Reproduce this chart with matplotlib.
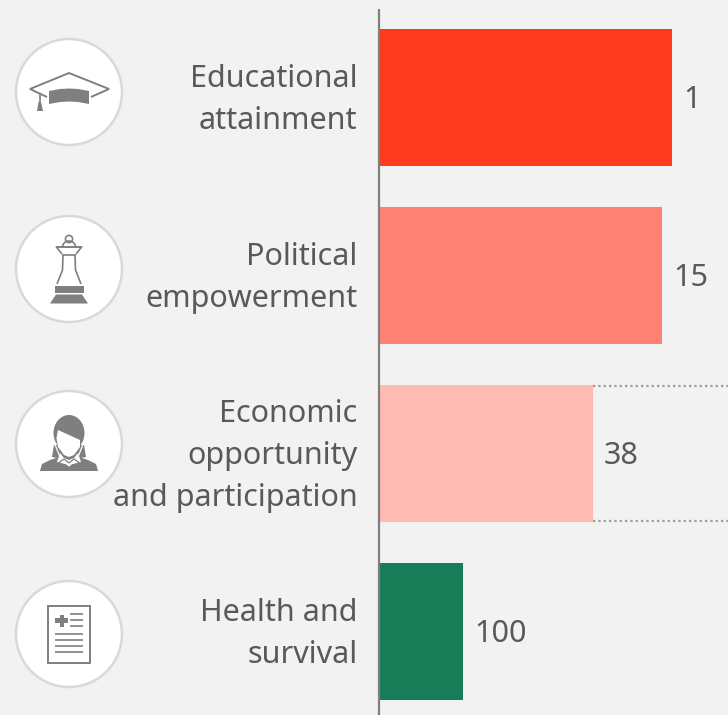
import numpy as np
import matplotlib
matplotlib.use('Agg')
import matplotlib.pyplot as plt
from matplotlib.patches import Circle, Polygon, Rectangle, Ellipse

categories = ['Educational\nattainment', 'Political\nempowerment',
              'Economic\nopportunity\nand participation', 'Health and\nsurvival']
scores = [1.0, 0.966, 0.73, 0.287]
ranks = ['1', '15', '38', '100']
colors = ['#ff3a1d', '#ff8275', '#ffbab3', '#187c58']

BG = '#f2f2f2'
TXT = '#595959'
ICON = '#7f7f7f'
W, H = 728, 715
STEP = 178.0
BAR_H = 137.0
X0 = 379.0
PX_PER_UNIT = 293.0
CENTERS = [97.5, 275.5, 453.5, 631.5]

plt.rcParams['font.family'] = ['Noto Sans', 'DejaVu Sans']

fig = plt.figure(figsize=(W / 100, H / 100), dpi=100, facecolor=BG)

# bars, in score units across and row index down
ax = fig.add_axes([X0 / W, 0, (W - X0) / W, 1])
ax.set_xlim(0, (W - X0) / PX_PER_UNIT)
ax.set_ylim((H - CENTERS[0]) / STEP, -CENTERS[0] / STEP)
ax.axis('off')
ypos = np.arange(len(scores))
ax.barh(ypos, scores, height=BAR_H / STEP, color=colors, linewidth=0)
for y, s, r in zip(ypos, scores, ranks):
    ax.annotate(r, (s, y), xytext=(11, -2), textcoords='offset pixels', ha='left', va='center',
                fontsize=22, color=TXT)

# dotted guides running off the third bar
for edge in [-0.49, 0.49]:
    y = ypos[2] + edge * BAR_H / STEP
    ax.plot([scores[2], ax.get_xlim()[1]], [y, y], color='#9c9c9c', lw=1.6,
            dashes=(1, 1.4), zorder=1)

# overlay in pixel units for labels and icons
ov = fig.add_axes([0, 0, 1, 1])
ov.set_xlim(0, W)
ov.set_ylim(H, 0)
ov.axis('off')
ov.patch.set_alpha(0)

ov.plot([378.5, 378.5], [9, H], color='#7f7f7f', lw=1.6, solid_capstyle='butt')

for cy, lab in zip(CENTERS, categories):
    ov.text(357.5, cy + 2.5, lab, ha='right', va='center', fontsize=22, color=TXT,
            linespacing=1.52, multialignment='right')


def line(xs, ys, lw=1.2, c=ICON):
    ov.plot(xs, ys, color=c, lw=lw, solid_capstyle='butt', solid_joinstyle='miter')


def poly(pts, c=ICON):
    ov.add_patch(Polygon(pts, closed=True, fc=c, ec='none'))


ICON_X = 69
icon_y = [92, 269, 444, 634]
for cy in icon_y:
    ov.add_patch(Circle((ICON_X, cy), 53, fc='white', ec='#d9d9d9', lw=1.8))

# mortarboard
line([47, 30, 69, 109, 91], [97, 89, 73, 89, 97], lw=1.4)
poly([(49, 91), (60, 89), (69, 88.5), (78, 89), (89, 91), (89, 104),
      (78, 102), (69, 101.5), (60, 102), (49, 104)])
line([40, 40], [93, 106], lw=1.2)
poly([(38.5, 102), (41, 102), (43, 111), (37, 111)])

# chess queen
ov.add_patch(Circle((69, 239), 3.6, fc='white', ec=ICON, lw=1.2))
ov.add_patch(Ellipse((69, 247), 13, 12, fc='none', ec=ICON, lw=1.2))
ov.add_patch(Rectangle((55, 247), 28, 8.5, fc='white', ec='none'))
line([56, 82], [246.5, 246.5], lw=1.4)
line([56, 62], [246.5, 254], lw=1.2)
line([82, 76], [246.5, 254], lw=1.2)
line([62, 76], [255, 255], lw=1.2)
line([63, 62.5, 57], [255, 270, 284], lw=1.2)
line([75, 75.5, 81], [255, 270, 284], lw=1.2)
ov.add_patch(Rectangle((54.5, 285.5), 29, 7, fc=ICON, ec='none'))
poly([(50, 303.5), (56, 294.5), (82, 294.5), (88, 303.5)])

# businesswoman
woman_y = 375
ov.add_patch(Ellipse((69, woman_y + 58), 31, 36, fc=ICON, ec='none'))
poly([(40, woman_y + 96), (42, woman_y + 89), (50, woman_y + 85), (62, woman_y + 81),
      (76, woman_y + 81), (88, woman_y + 85), (96, woman_y + 89), (98, woman_y + 96)])
poly([(52, woman_y + 82), (54, woman_y + 70), (84, woman_y + 70), (86, woman_y + 82),
      (76, woman_y + 84), (62, woman_y + 84)])
# face with fringe cut
poly([(58, woman_y + 55), (80, woman_y + 65), (80, woman_y + 72), (74, woman_y + 80),
      (69, woman_y + 82), (64, woman_y + 80), (58, woman_y + 72), (56.5, woman_y + 63)], c='white')
# collar
poly([(60, woman_y + 78), (64, woman_y + 83), (69, woman_y + 85), (74, woman_y + 83), (78, woman_y + 78),
      (81, woman_y + 87), (69, woman_y + 90), (57, woman_y + 87)], c='white')
line([54, 60, 69, 78, 84], [woman_y + 67, woman_y + 82, woman_y + 91, woman_y + 82, woman_y + 67], lw=0.9, c='white')
line([57, 64, 69, 74, 81], [woman_y + 89, woman_y + 84, woman_y + 88, woman_y + 84, woman_y + 89], lw=0.9)

# medical sheet
ov.add_patch(Rectangle((47.7, 605.5), 42.5, 57, fc='white', ec=ICON, lw=1.4))
ov.add_patch(Rectangle((55, 618), 13, 4.5, fc=ICON, ec='none'))
ov.add_patch(Rectangle((59.5, 614.5), 4.5, 12, fc=ICON, ec='none'))
for y0, x0 in [(614, 70), (620, 70), (626, 70)]:
    line([x0, 83], [y0, y0], lw=1.2)
for y0 in [634, 640, 646, 652]:
    line([55, 83], [y0, y0], lw=1.2)

fig.savefig('out.png', dpi=100, facecolor=BG)
